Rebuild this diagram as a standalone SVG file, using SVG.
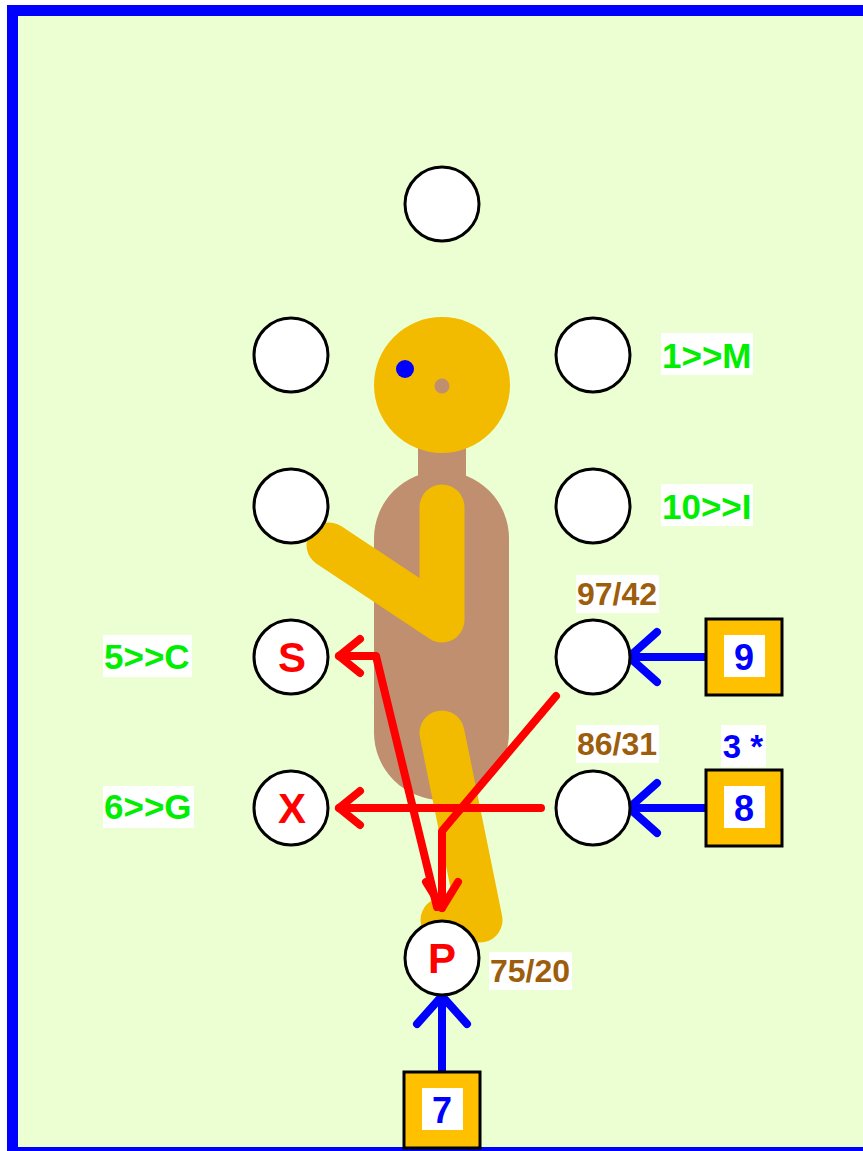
<svg xmlns="http://www.w3.org/2000/svg" width="863" height="1151" viewBox="0 0 863 1151">
  <defs>
    <marker id="ahRed" markerUnits="userSpaceOnUse" markerWidth="60" markerHeight="60" viewBox="-40 -30 50 60" refX="0" refY="0" orient="auto" overflow="visible">
      <path d="M-21,-17 L0,0 L-21,17" fill="none" stroke="#FF0000" stroke-width="8" stroke-linecap="round" stroke-linejoin="round"/>
    </marker>
    <marker id="ahRedP" markerUnits="userSpaceOnUse" markerWidth="60" markerHeight="60" viewBox="-40 -30 50 60" refX="0" refY="0" orient="auto" overflow="visible">
      <path d="M-26,-16 L0,0 L-26,16" fill="none" stroke="#FF0000" stroke-width="8" stroke-linecap="round" stroke-linejoin="round"/>
    </marker>
    <marker id="ahBlue" markerUnits="userSpaceOnUse" markerWidth="60" markerHeight="60" viewBox="-40 -30 50 60" refX="0" refY="0" orient="auto" overflow="visible">
      <path d="M-28,-25 L0,0 L-28,25" fill="none" stroke="#0000FF" stroke-width="8" stroke-linecap="round" stroke-linejoin="round"/>
    </marker>
  </defs>
  <style>
    .node { fill: #FFFFFF; stroke: #000000; stroke-width: 3; }
    .box { fill: #FFC000; stroke: #000000; stroke-width: 3; }
    .boxbg { fill: #FFFFFF; }
    .lblbg { fill: #FFFFFF; }
    .txt { font-family: "Liberation Sans", Arial, sans-serif; font-weight: bold; }
    .cl { font-size: 42px; fill: #FF0000; text-anchor: middle; }
    .bl { font-size: 36px; fill: #0000FF; text-anchor: middle; }
    .gl { font-size: 35px; fill: #00EE00; }
    .nl { font-size: 32px; fill: #9C5E0C; }
    .red { fill: none; stroke: #FF0000; stroke-width: 8; stroke-linecap: round; stroke-linejoin: round; }
    .blue { fill: none; stroke: #0000FF; stroke-width: 8; stroke-linecap: round; }
    .limb { fill: none; stroke: #F2BB00; stroke-width: 45; stroke-linecap: round; stroke-linejoin: round; }
  </style>

  <rect x="0" y="0" width="863" height="1151" fill="#FFFFFF"/>
  <rect x="12.5" y="10.5" width="862" height="1142" fill="#EBFFD2" stroke="#0000FF" stroke-width="11"/>

  <g id="figure">
    <rect x="418" y="440" width="48" height="50" fill="#BF8F70"/>
    <rect x="374" y="471" width="135" height="329" rx="67.5" ry="67.5" fill="#BF8F70"/>
    <circle cx="442" cy="385" r="68" fill="#F2BB00"/>
    <circle cx="405" cy="369" r="9" fill="#0000FF"/>
    <circle cx="442" cy="386" r="7.5" fill="#BF8F70"/>
    <polyline class="limb" points="442,507 442,620 329,545"/>
    <polyline class="limb" points="442,733 480,920 443,920"/>
  </g>

  <g id="connectors">
    <path class="red" d="M556,696 L442,831 L442,908" marker-end="url(#ahRedP)"/>
    <path class="red" d="M437,907 L376,656 L339,656" marker-end="url(#ahRed)"/>
    <path class="red" d="M541,808 L339,808" marker-end="url(#ahRed)"/>
    <path class="blue" d="M708,657 L629,657" marker-end="url(#ahBlue)"/>
    <path class="blue" d="M708,808 L629,808" marker-end="url(#ahBlue)"/>
    <path class="blue" d="M442,1073 L442,996" marker-end="url(#ahBlue)"/>
  </g>

  <g id="node-top"><circle class="node" cx="442" cy="204" r="37"/></g>
  <g id="node-l1"><circle class="node" cx="291" cy="355" r="37"/></g>
  <g id="node-r1"><circle class="node" cx="593" cy="355" r="37"/></g>
  <g id="node-l2"><circle class="node" cx="291" cy="506" r="37"/></g>
  <g id="node-r2"><circle class="node" cx="593" cy="506" r="37"/></g>
  <g id="node-S"><circle class="node" cx="291" cy="657" r="37"/><text class="txt cl" x="292" y="672">S</text></g>
  <g id="node-r3"><circle class="node" cx="593" cy="657" r="37"/></g>
  <g id="node-X"><circle class="node" cx="291" cy="808" r="37"/><text class="txt cl" x="292" y="823">X</text></g>
  <g id="node-r4"><circle class="node" cx="593" cy="808" r="37"/></g>
  <g id="node-P"><circle class="node" cx="442" cy="958" r="37"/><text class="txt cl" x="442" y="973">P</text></g>

  <g id="box-9"><rect class="box" x="706" y="619" width="76" height="76"/><rect class="boxbg" x="724" y="635" width="41" height="42"/><text class="txt bl" x="744" y="670">9</text></g>
  <g id="box-8"><rect class="box" x="706" y="770" width="76" height="76"/><rect class="boxbg" x="724" y="786" width="41" height="42"/><text class="txt bl" x="744" y="821">8</text></g>
  <g id="box-7"><rect class="box" x="404" y="1072" width="76" height="76"/><rect class="boxbg" x="422" y="1088" width="41" height="42"/><text class="txt bl" x="442" y="1123">7</text></g>

  <g id="labels">
    <rect class="lblbg" x="661" y="333" width="92" height="42"/>
    <text class="txt gl" x="662" y="368">1&gt;&gt;M</text>
    <rect class="lblbg" x="661" y="484" width="92" height="42"/>
    <text class="txt gl" x="662" y="519">10&gt;&gt;I</text>
    <rect class="lblbg" x="103" y="635" width="89" height="42"/>
    <text class="txt gl" x="104" y="669">5&gt;&gt;C</text>
    <rect class="lblbg" x="103" y="786" width="91" height="42"/>
    <text class="txt gl" x="104" y="819">6&gt;&gt;G</text>
    <rect class="lblbg" x="576" y="575" width="83" height="38"/>
    <text class="txt nl" x="577" y="605">97/42</text>
    <rect class="lblbg" x="576" y="725" width="83" height="38"/>
    <text class="txt nl" x="577" y="755">86/31</text>
    <rect class="lblbg" x="489" y="952" width="83" height="38"/>
    <text class="txt nl" x="490" y="982">75/20</text>
    <rect class="lblbg" x="721" y="725" width="45" height="42"/>
    <text class="txt" x="743" y="758" font-size="33" fill="#0000FF" text-anchor="middle">3 *</text>
  </g>
</svg>
